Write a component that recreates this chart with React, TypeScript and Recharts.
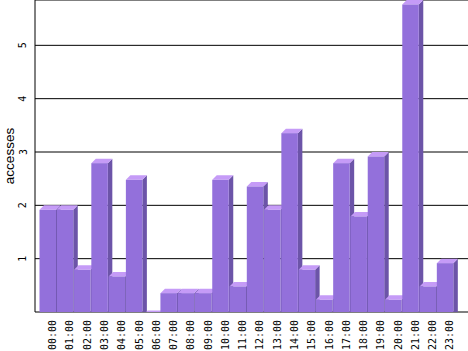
import { BarChart, Bar, XAxis, YAxis, CartesianGrid } from 'recharts';

const hours = [
  '00:00', '01:00', '02:00', '03:00', '04:00', '05:00', '06:00', '07:00',
  '08:00', '09:00', '10:00', '11:00', '12:00', '13:00', '14:00', '15:00',
  '16:00', '17:00', '18:00', '19:00', '20:00', '21:00', '22:00', '23:00',
];

// 06:00 is read as a sliver just above zero
const accesses = [
  2, 2, 0.875, 2.875, 0.75, 2.5625, 0.03, 0.4375,
  0.4375, 0.4375, 2.5625, 0.5625, 2.4375, 2, 3.4375, 0.875,
  0.3125, 2.875, 1.875, 3, 0.3125, 5.85, 0.5625, 1,
];

const yTicks = [0, 1, 2, 3, 4, 5];

const data = hours.map((h, i) => ({ hour: h, accesses: accesses[i] }));

const DEPTH = 4.5;
const FRONT = '#9370db';
const TOP = '#c59bf7';
const SIDE = '#6c54a8';

// back face = recharts rect, front face pushed down-left to fake depth
function Bar3D(props: any) {
  const { x, y, width, height } = props;
  if (x == null || y == null) return null;
  const d = DEPTH;
  const h = Math.max(height, 0);
  return (
    <g>
      <polygon
        points={`${x + width - d},${y + d} ${x + width},${y} ${x + width},${y + h} ${x + width - d},${y + h + d}`}
        fill={SIDE}
      />
      <polygon
        points={`${x - d},${y + d} ${x},${y} ${x + width},${y} ${x + width - d},${y + d}`}
        fill={TOP}
      />
      <rect x={x - d} y={y + d} width={width} height={h} fill={FRONT} />
    </g>
  );
}

function HourTick({ x, y, payload }: any) {
  return (
    <text
      x={x}
      y={y + 8}
      transform={`rotate(-90, ${x}, ${y + 8})`}
      textAnchor="end"
      dominantBaseline="central"
      fontFamily="'DejaVu Sans Mono', monospace"
      fontSize={10}
      fill="#000"
    >
      {payload.value}
    </text>
  );
}

function CountTick({ x, y, payload }: any) {
  if (payload.value === 0) return null;
  return (
    <text
      x={x - 12}
      y={y}
      transform={`rotate(-90, ${x - 12}, ${y})`}
      textAnchor="middle"
      dominantBaseline="central"
      fontFamily="'DejaVu Sans Mono', monospace"
      fontSize={10}
      fill="#000"
    >
      {payload.value}
    </text>
  );
}

export default function App() {
  return (
    <div style={{ position: 'absolute', left: 0, top: 0, width: 468, height: 351, background: '#fff' }}>
      <BarChart
        width={468}
        height={351}
        data={data}
        margin={{ top: 0, right: 0, bottom: 0, left: 0 }}
      >
        <CartesianGrid vertical={false} stroke="#000" strokeWidth={1} />
        <XAxis
          dataKey="hour"
          height={39}
          interval={0}
          padding={{ left: 9, right: 9.4 }}
          axisLine={false}
          tickLine={false}
          tickSize={0}
          tickMargin={0}
          tick={<HourTick />}
        />
        <YAxis
          width={35}
          domain={[0, 5.85]}
          ticks={yTicks}
          allowDataOverflow
          axisLine={{ stroke: '#000' }}
          tickLine={false}
          tickSize={0}
          tickMargin={0}
          tick={<CountTick />}
          label={{
            content: ({ viewBox }: any) => (
              <text
                x={viewBox.x + 9}
                y={viewBox.y + viewBox.height / 2}
                transform={`rotate(-90, ${viewBox.x + 9}, ${viewBox.y + viewBox.height / 2})`}
                textAnchor="middle"
                dominantBaseline="central"
                fontFamily="'Liberation Sans', Arial, sans-serif"
                fontSize={13.5}
                fill="#000"
              >
                accesses
              </text>
            ),
          }}
        />
        <Bar
          dataKey="accesses"
          barSize={16.5}
          shape={<Bar3D />}
          isAnimationActive={false}
        />
      </BarChart>
    </div>
  );
}
